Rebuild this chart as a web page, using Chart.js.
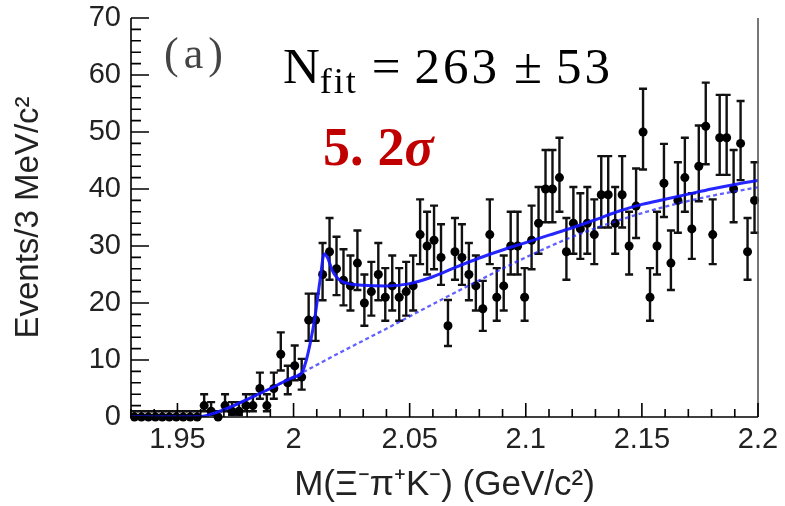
<!DOCTYPE html>
<html>
<head>
<meta charset="utf-8">
<script src="https://cdn.jsdelivr.net/npm/chart.js@4.4.0/dist/chart.umd.min.js"></script>
<style>
  html, body { margin: 0; padding: 0; background: #fff; }
  #wrap { position: relative; width: 785px; height: 506px; }
  #chart { position: absolute; left: 0; top: 0; }
  .note { position: absolute; white-space: nowrap; line-height: 1; }
  #tag { left: 164px; top: 28px; font: 44px 'Liberation Serif', serif; color: #444; letter-spacing: 5px; }
  #nfit { left: 283px; top: 37px; font: 51px 'Liberation Serif', serif; color: #000; }
  #nfit sub { font-size: 36px; vertical-align: -10px; letter-spacing: 2px; }
  #nfit .op { margin: 0 14px; }
  #nfit .num { letter-spacing: 3px; }
  #signif { left: 323px; top: 116px; font: bold 54px 'Liberation Serif', serif; color: #c00000; }
  #signif .gap { margin-left: 14px; }
</style>
</head>
<body>
<div id="wrap">
  <canvas id="chart" width="785" height="506"></canvas>
  <div class="note" id="tag">(a)</div>
  <div class="note" id="nfit">N<sub>fit</sub><span class="op">=</span><span class="num">263</span><span class="op">±</span><span class="num">53</span></div>
  <div class="note" id="signif">5.<span class="gap">2</span><i>σ</i></div>
</div>
<script>
// histogram: 3 MeV bins starting at 1.93 GeV
const binStart = 1.93;
const binWidth = 0.003;
const counts = [
    0, 0, 0, 0, 0, 0, 0, 0, 0, 0,
    2, 1, 0, 2, 1, 1, 2, 2, 5, 2,
    5, 11, 6, 9, 7, 17, 17, 25, 29, 26,
    24, 23, 27, 20, 22, 25, 21, 23, 21, 22,
    23, 32, 30, 31, 28, 16, 29, 28, 25, 23,
    19, 32, 21, 23, 30, 30, 21, 31, 34, 40,
    40, 42, 29, 34, 33, 34, 32, 39, 39, 34,
    39, 30, 37, 50, 21, 30, 41, 27, 38, 42,
    33, 44, 51, 32, 49, 49, 40, 48, 29, 38
];

// total fit (solid)
const fitMass = [1.93, 1.958, 1.97, 1.98, 1.99, 2.0, 2.0035, 2.0055, 2.0072, 2.0092, 2.0114, 2.0132,
    2.0148, 2.0164, 2.018, 2.0207, 2.025, 2.03, 2.04, 2.05, 2.06, 2.07, 2.08, 2.09, 2.1,
    2.11, 2.12, 2.13, 2.14, 2.15, 2.16, 2.17, 2.18, 2.19, 2.2];
const fitTotal = [0, 0, 1.3, 3.1, 5.0, 7.0, 7.7, 10.0, 13.0, 17.5, 24.0, 28.6,
    27.8, 26.0, 24.8, 23.8, 23.3, 23.1, 23.0, 23.4, 24.6, 26.3, 27.9, 29.3, 30.6,
    31.9, 33.2, 34.6, 36.1, 37.3, 38.2, 39.1, 40.0, 40.8, 41.5];

// background only (dashed)
const bkgMass = [1.93, 1.958, 1.97, 1.98, 1.99, 2.0, 2.02, 2.04, 2.06, 2.08, 2.1, 2.12, 2.14, 2.16, 2.18, 2.2];
const bkgLevel = [0, 0, 1.2, 3.0, 5.0, 7.0, 11.3, 15.5, 19.8, 24.0, 28.0, 31.6, 34.5, 36.9, 38.8, 40.3];

const yTicks = [0, 10, 20, 30, 40, 50, 60, 70];
const xTickValues = [1.95, 2.0, 2.05, 2.1, 2.15, 2.2];
const xTickLabels = ['1.95', '2', '2.05', '2.1', '2.15', '2.2'];

const textColor = '#222';

const points = counts.map((n, i) => ({ x: binStart + binWidth * (i + 0.5), y: n }));

// Poisson-style asymmetric errors, as ROOT draws them
function errUp(n) { return Math.sqrt(n + 0.25) + 0.5; }
function errDown(n) { return n > 0 ? Math.sqrt(n + 0.25) - 0.5 : 0; }

const errorBars = {
    id: 'errorBars',
    beforeDatasetsDraw(chart) {
        const { ctx, scales: { x, y } } = chart;
        ctx.save();
        ctx.strokeStyle = '#111';
        ctx.lineWidth = 2.4;
        points.forEach(p => {
            const px = x.getPixelForValue(p.x);
            const top = y.getPixelForValue(p.y + errUp(p.y));
            const bot = y.getPixelForValue(p.y - errDown(p.y));
            ctx.beginPath();
            ctx.moveTo(px, top); ctx.lineTo(px, bot);
            ctx.moveTo(px - 4, top); ctx.lineTo(px + 4, top);
            ctx.moveTo(px - 4, bot); ctx.lineTo(px + 4, bot);
            ctx.stroke();
        });
        ctx.restore();
    }
};

// ROOT style frame with ticks on the inside
const frame = {
    id: 'frame',
    afterDraw(chart) {
        const { ctx, scales: { x, y }, chartArea: a } = chart;
        ctx.save();
        ctx.strokeStyle = '#000';
        ctx.lineWidth = 1.6;
        ctx.beginPath();
        ctx.moveTo(a.left, a.top); ctx.lineTo(a.left, a.bottom); ctx.lineTo(a.right, a.bottom);
        ctx.stroke();
        ctx.strokeStyle = '#555';
        ctx.beginPath();
        ctx.moveTo(a.right, a.bottom); ctx.lineTo(a.right, a.top);
        ctx.stroke();

        ctx.strokeStyle = '#000';
        ctx.beginPath();
        for (let v = 0; v <= 70; v += 2) {
            const py = y.getPixelForValue(v);
            const len = v % 10 === 0 ? 18 : 10;
            ctx.moveTo(a.left, py); ctx.lineTo(a.left + len, py);
        }
        for (let k = 193; k <= 220; k++) {
            const px = x.getPixelForValue(k / 100);
            const len = k % 5 === 0 ? 14 : 8;
            ctx.moveTo(px, a.bottom); ctx.lineTo(px, a.bottom - len);
        }
        ctx.stroke();
        ctx.restore();
    }
};

Chart.defaults.font.family = "'Liberation Sans', Arial, sans-serif";

new Chart(document.getElementById('chart').getContext('2d'), {
    type: 'scatter',
    data: {
        datasets: [
            {
                label: 'Fit',
                data: fitMass.map((m, i) => ({ x: m, y: fitTotal[i] })),
                showLine: true,
                borderColor: 'rgba(20, 20, 255, 0.92)',
                borderWidth: 3,
                pointRadius: 0,
                cubicInterpolationMode: 'monotone',
                order: 0
            },
            {
                label: 'Background',
                data: bkgMass.map((m, i) => ({ x: m, y: bkgLevel[i] })),
                showLine: true,
                borderColor: 'rgba(30, 30, 255, 0.7)',
                borderWidth: 2.3,
                borderDash: [4, 3],
                pointRadius: 0,
                cubicInterpolationMode: 'monotone',
                order: 1
            },
            {
                label: 'Data',
                data: points,
                pointRadius: 4.5,
                pointBackgroundColor: '#000',
                pointBorderWidth: 0,
                clip: false,
                order: 2
            }
        ]
    },
    options: {
        responsive: false,
        animation: false,
        devicePixelRatio: 1,
        layout: { padding: { left: 0, right: 27, top: 18, bottom: 0 } },
        plugins: {
            legend: { display: false },
            tooltip: { enabled: false }
        },
        scales: {
            x: {
                type: 'linear',
                min: 1.93,
                max: 2.2,
                grid: { display: false, drawTicks: false },
                border: { display: false },
                afterBuildTicks: s => { s.ticks = xTickValues.map(v => ({ value: v })); },
                ticks: {
                    callback: (v, i) => xTickLabels[i],
                    color: textColor,
                    font: { size: 29 },
                    padding: 6,
                    maxRotation: 0,
                    autoSkip: false
                },
                title: {
                    display: true,
                    text: 'M(Ξ⁻π⁺K⁻) (GeV/c²)',
                    color: textColor,
                    font: { size: 35 },
                    padding: { top: 0, bottom: 0 }
                },
                afterFit: s => { s.height = 89; s.paddingLeft = 0; s.paddingRight = 0; }
            },
            y: {
                min: 0,
                max: 70,
                grid: { display: false, drawTicks: false },
                border: { display: false },
                afterBuildTicks: s => { s.ticks = yTicks.map(v => ({ value: v })); },
                ticks: {
                    callback: (v, i) => String(yTicks[i]),
                    color: textColor,
                    font: { size: 29 },
                    padding: 10
                },
                title: {
                    display: true,
                    text: 'Events/3 MeV/c²',
                    color: textColor,
                    font: { size: 33 },
                    padding: { top: 9, bottom: 0 }
                },
                afterFit: s => { s.width = 131; s.paddingTop = 0; s.paddingBottom = 0; }
            }
        }
    },
    plugins: [errorBars, frame]
});
</script>
</body>
</html>
